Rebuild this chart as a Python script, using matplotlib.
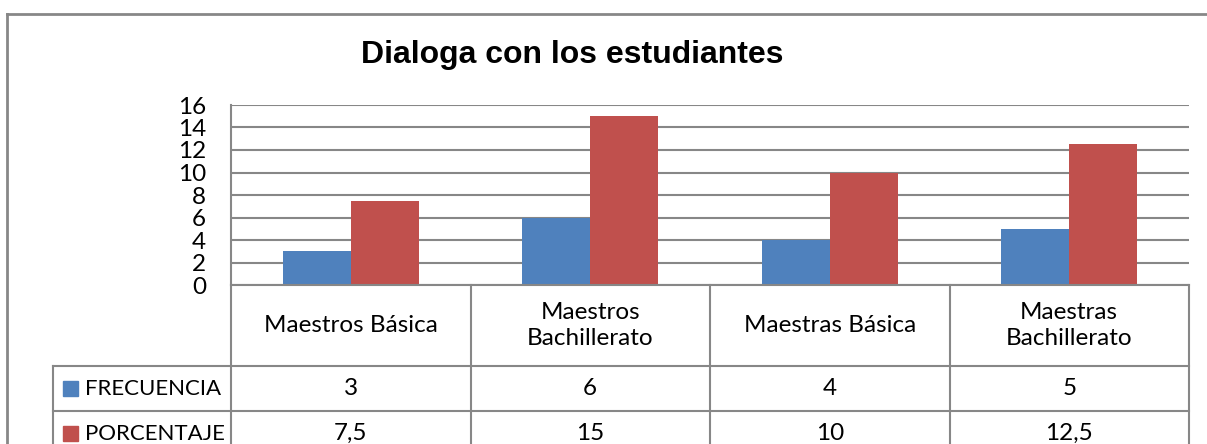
import matplotlib.pyplot as plt
import numpy as np

categorias = ['Maestros Básica', 'Maestros\nBachillerato', 'Maestras Básica', 'Maestras\nBachillerato']
frecuencia = [3, 6, 4, 5]
porcentaje = [7.5, 15, 10, 12.5]
series = ['FRECUENCIA', 'PORCENTAJE']
colores = ['#4F81BD', '#C0504D']
yticks = [0, 2, 4, 6, 8, 10, 12, 14, 16]

W, H = 1207, 444
gris = '#878787'
fuente = 'Lato'
tam = 17.5

fig = plt.figure(figsize=(W / 100, H / 100), dpi=100)


def fx(px):
    return px / W


def fy(py):
    return (H - py) / H


# plot area in pixels
x0, x1, ytop, ybot = 231, 1189, 105, 285
ax = fig.add_axes([fx(x0), fy(ybot), fx(x1) - fx(x0), fy(ytop) - fy(ybot)])
n = len(categorias)
x = np.arange(n) + 0.5
w = 68 / 240
ax.bar(x - w / 2, frecuencia, w, color=colores[0], zorder=3)
ax.bar(x + w / 2, porcentaje, w, color=colores[1], zorder=3)
ax.set_xlim(0, n)
ax.set_ylim(0, 16)
ax.set_yticks(yticks)
ax.set_yticklabels([str(t) for t in yticks], fontsize=17.5, family=fuente)
ax.tick_params(axis='y', length=0, pad=18)
ax.set_xticks([])
ax.yaxis.grid(True, color=gris, lw=1.5, zorder=0)
for s in ['top', 'right', 'bottom']:
    ax.spines[s].set_visible(False)
ax.spines['left'].set_color(gris)
ax.spines['left'].set_linewidth(1.5)

fig.text(fx(572), fy(55), 'Dialoga con los estudiantes', ha='center', va='center',
         fontsize=23, fontweight='bold', family='Liberation Sans')

# outer frame
fig.add_artist(plt.Line2D([fx(7), fx(7)], [fy(14), fy(H + 5)], color=gris, lw=2))
fig.add_artist(plt.Line2D([fx(7), fx(W + 5)], [fy(14), fy(14)], color=gris, lw=2))

# data table
col = [x0 + i * (x1 - x0) / n for i in range(n + 1)]
r0, r1, r2, r3 = 285, 366, 411, 456
leg_x = 53


def hline(y, xa, xb):
    fig.add_artist(plt.Line2D([fx(xa), fx(xb)], [fy(y), fy(y)], color=gris, lw=1.5))


def vline(xv, ya, yb):
    fig.add_artist(plt.Line2D([fx(xv), fx(xv)], [fy(ya), fy(yb)], color=gris, lw=1.5))


hline(r0, x0, x1)
hline(r1, leg_x, x1)
hline(r2, leg_x, x1)
vline(leg_x, r1, r3)
for c in col:
    vline(c, r0, r3)


def fmt(v):
    return str(int(v)) if float(v).is_integer() else str(v).replace('.', ',')


filas = [(r1 + r2) / 2, (r2 + r3) / 2]
for i, cat in enumerate(categorias):
    cx = (col[i] + col[i + 1]) / 2
    fig.text(fx(cx), fy((r0 + r1) / 2), cat, ha='center', va='center',
             fontsize=tam, family=fuente, linespacing=1.25)
    fig.text(fx(cx), fy(filas[0]), fmt(frecuencia[i]), ha='center', va='center',
             fontsize=tam, family=fuente)
    fig.text(fx(cx), fy(filas[1]), fmt(porcentaje[i]), ha='center', va='center',
             fontsize=tam, family=fuente)

for nombre, c, yc in zip(series, colores, filas):
    fig.add_artist(plt.Rectangle((fx(63), fy(yc + 7.5)), fx(15), 15 / H, color=c,
                                 transform=fig.transFigure))
    fig.text(fx(85), fy(yc), nombre, ha='left', va='center', fontsize=16, family=fuente)

fig.savefig('out.png', dpi=100)
